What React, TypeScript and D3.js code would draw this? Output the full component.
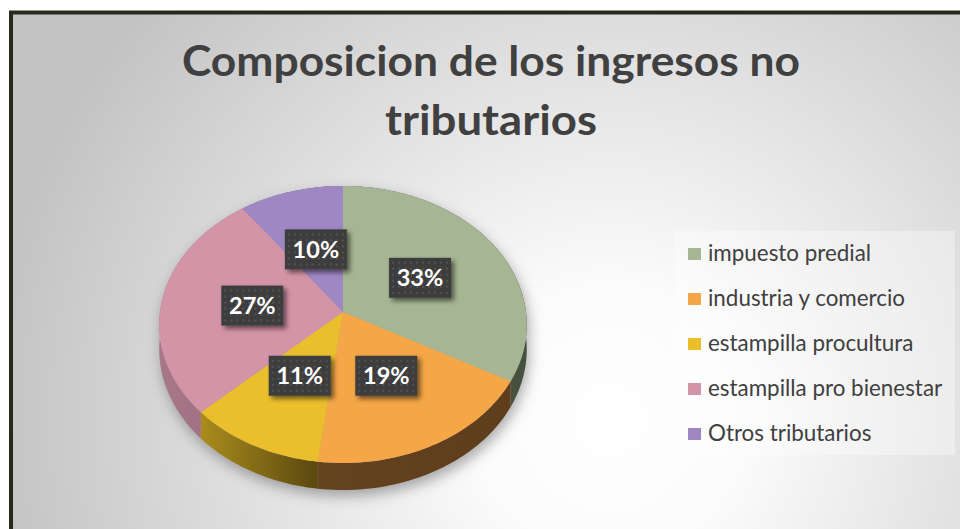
import React from "react";
import * as d3 from "d3";

const categories = [
  "impuesto predial",
  "industria y comercio",
  "estampilla procultura",
  "estampilla pro bienestar",
  "Otros tributarios",
];
const values = [33, 19, 11, 27, 10];
const labels = ["33%", "19%", "11%", "27%", "10%"];
const topColors = ["#a6b594", "#f5a646", "#ebbf2c", "#d494a7", "#9f87c3"];
const wallLight = ["#56624d", "#66431f", "#aa8c1c", "#a87889", "#78649a"];
const wallDark = ["#46503f", "#5e3d1d", "#5a4810", "#9a6c7e", "#5e4d7a"];
const titleLines = ["Composicion de los ingresos no", "tributarios"];

const W = 960;
const H = 529;

// projection params
const CX = 343;
const CY = 312;
const RA = 183; // horizontal radius
const RB = 137.4; // depth radius
const K = 0.09; // perspective
const DEPTH = 24.6;

function proj(u: number, v: number, h: number): [number, number] {
  const d = 1 - K * v;
  return [CX + (RA * u) / d, CY + (RB * v + h) / d];
}
function ptAt(theta: number, r: number, h: number): [number, number] {
  return proj(r * Math.sin(theta), -r * Math.cos(theta), h);
}
function arcPts(a0: number, a1: number, h: number): [number, number][] {
  const n = Math.max(4, Math.ceil(((a1 - a0) / (Math.PI * 2)) * 240));
  const pts: [number, number][] = [];
  for (let i = 0; i <= n; i++) {
    const t = a0 + ((a1 - a0) * i) / n;
    pts.push(ptAt(t, 1, h));
  }
  return pts;
}
const line = d3.line<[number, number]>();

export default function App() {
  const arcs = d3.pie<number>().sort(null).startAngle(0).endAngle(Math.PI * 2)(values);
  const full = line(arcPts(0, Math.PI * 2, 0)) + "Z";

  const walls = arcs.map((a) => {
    const top = arcPts(a.startAngle, a.endAngle, 0);
    const bot = arcPts(a.startAngle, a.endAngle, DEPTH).reverse();
    const all = top.concat(bot);
    const xs = all.map((p) => p[0]);
    return {
      d: line(all) + "Z",
      x0: d3.min(xs) as number,
      x1: d3.max(xs) as number,
    };
  });
  const tops = arcs.map((a) => {
    const pts: [number, number][] = [proj(0, 0, 0), ...arcPts(a.startAngle, a.endAngle, 0)];
    return line(pts) + "Z";
  });
  const labelPos = arcs.map((a) => ptAt((a.startAngle + a.endAngle) / 2, 0.5, 0));

  const legendY = d3.scalePoint<string>().domain(categories).range([254, 434]);

  const boxW = 62;
  const boxH = 40;

  return (
    <svg
      width={W}
      height={H}
      style={{ position: "absolute", left: 0, top: 0, background: "#fff" }}
      xmlns="http://www.w3.org/2000/svg"
    >
      <defs>
        <radialGradient id="bg" gradientUnits="userSpaceOnUse" cx={610} cy={420} r={620}>
          <stop offset="0" stopColor="#ffffff" />
          <stop offset="0.22" stopColor="#fbfbfb" />
          <stop offset="1" stopColor="#c3c3c3" />
        </radialGradient>
        {walls.map((w, i) => (
          <linearGradient
            key={i}
            id={"wg" + i}
            gradientUnits="userSpaceOnUse"
            x1={w.x0}
            x2={w.x1}
            y1={0}
            y2={0}
          >
            <stop offset="0" stopColor={wallLight[i]} />
            <stop offset="1" stopColor={wallDark[i]} />
          </linearGradient>
        ))}
        <filter id="pieShadow" x="-20%" y="-20%" width="140%" height="150%">
          <feGaussianBlur stdDeviation="7" />
        </filter>
        <filter id="boxShadow" x="-30%" y="-30%" width="170%" height="170%">
          <feDropShadow dx="3" dy="3" stdDeviation="2.5" floodColor="#000" floodOpacity="0.55" />
        </filter>
        <pattern id="dots" width="6" height="6" patternUnits="userSpaceOnUse">
          <rect width="6" height="6" fill="#3e3e3e" />
          <rect x="2" y="2" width="2" height="2" fill="#515151" />
        </pattern>
      </defs>

      <rect x={11} y={12.5} width={W + 20} height={H + 20} fill="url(#bg)" stroke="#252a1b" strokeWidth={4} />

      <g fill="#404040" fontFamily="Lato, 'Open Sans', sans-serif" fontWeight="bold" textAnchor="middle">
        <text x={491} y={76} fontSize={42} textLength={618} lengthAdjust="spacingAndGlyphs">
          {titleLines[0]}
        </text>
        <text x={491} y={135} fontSize={42} textLength={212} lengthAdjust="spacingAndGlyphs">
          {titleLines[1]}
        </text>
      </g>

      {/* pie shadow */}
      <g filter="url(#pieShadow)" opacity={0.5} transform="translate(2,6)">
        <path d={full} fill="#555" />
        {walls.map((w, i) => (
          <path key={i} d={w.d} fill="#555" />
        ))}
      </g>

      {/* walls */}
      {walls.map((w, i) => (
        <path key={"w" + i} d={w.d} fill={`url(#wg${i})`} />
      ))}
      {/* tops */}
      {tops.map((d, i) => (
        <path key={"t" + i} d={d} fill={topColors[i]} />
      ))}

      {/* labels */}
      {labelPos.map((p, i) => (
        <g key={"l" + i} transform={`translate(${p[0]},${p[1]})`}>
          <rect
            x={-boxW / 2}
            y={-boxH / 2}
            width={boxW}
            height={boxH}
            fill="url(#dots)"
            filter="url(#boxShadow)"
          />
          <text
            y={8.5}
            textAnchor="middle"
            fill="#fff"
            fontFamily="Lato, 'Open Sans', sans-serif"
            fontWeight="bold"
            fontSize={23.5}
          >
            {labels[i]}
          </text>
        </g>
      ))}

      {/* legend */}
      <rect x={675} y={231} width={280} height={224} fill="#ffffff" opacity={0.35} />
      {categories.map((c, i) => {
        const y = legendY(c) as number;
        return (
          <g key={"lg" + i}>
            <rect x={688} y={y - 6} width={13} height={12} fill={topColors[i]} />
            <text
              x={708}
              y={y + 7}
              fill="#404040"
              fontFamily="Lato, 'Open Sans', sans-serif"
              fontSize={22.4}
            >
              {c}
            </text>
          </g>
        );
      })}
    </svg>
  );
}
